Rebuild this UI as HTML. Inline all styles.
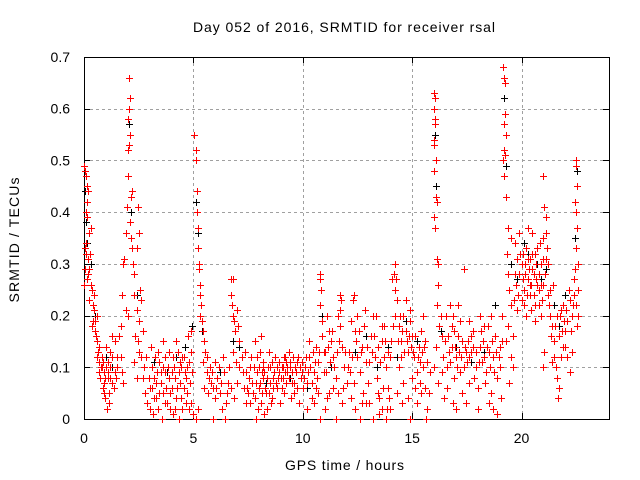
<!DOCTYPE html>
<html>
<head>
<meta charset="utf-8">
<style>
html,body{margin:0;padding:0;background:#fff;}
svg{display:block;font-family:"Liberation Sans",sans-serif;}
</style>
</head>
<body>
<svg id="chart" width="640" height="480" viewBox="0 0 640 480">
  <rect x="0" y="0" width="640" height="480" fill="#fff"/>
  <g id="grid"></g>
  <g id="axes"></g>
  <g id="marks"></g>
  <text x="344" y="32" font-size="14" text-anchor="middle" textLength="302" lengthAdjust="spacing" fill="#000">Day 052 of 2016, SRMTID for receiver rsal</text>
  <text x="344.5" y="470" font-size="14" text-anchor="middle" textLength="119" lengthAdjust="spacing" fill="#000">GPS time / hours</text>
  <text x="19" y="240" font-size="14" text-anchor="middle" textLength="125" lengthAdjust="spacing" fill="#000" transform="rotate(-90 19 240)">SRMTID / TECUs</text>
</svg>
<script>
const xTicks = [0, 5, 10, 15, 20];
const yTicks = [0, 0.1, 0.2, 0.3, 0.4, 0.5, 0.6, 0.7];
const yTickLabels = ["0", "0.1", "0.2", "0.3", "0.4", "0.5", "0.6", "0.7"];
const xDomain = [0, 24];
const yDomain = [0, 0.7];

const blackData = [
[0.05,.44],[0.1,.38],[0.15,.34],[0.3,.3],[0.5,.2],[1.0,.12],[1.3,.1],[2.05,.57],[2.15,.4],[2.4,.24],
[3.2,.11],[3.8,.09],[4.2,.12],[4.6,.14],[4.95,.18],[5.1,.42],[5.2,.36],[5.4,.17],[6.2,.09],[6.8,.15],
[7.1,.14],[8.3,.07],[8.9,.09],[9.4,.08],[10.2,.06],[10.9,.2],[11.3,.1],[12.4,.13],[12.9,.16],[13.4,.1],
[13.9,.14],[14.3,.12],[14.7,.19],[15.2,.15],[16.05,.55],[16.1,.45],[16.3,.17],[17.0,.14],[17.7,.11],[18.3,.13],
[18.8,.22],[19.2,.62],[19.3,.49],[19.5,.3],[19.8,.27],[20.3,.32],[20.7,.3],[21.1,.29],[21.5,.22],[22.0,.24],
[22.45,.35],[22.55,.48],[21.7,.18],[20.1,.34],[20.9,.27]
];

const redData = [
[0.02,.49],[0.05,.48],[0.1,.47],[0.15,.45],[0.2,.44],[0.08,.40],[0.15,.39],[0.03,.33],[0.1,.34],[0.18,.31],[0.25,.36],[0.3,.37],[0.05,.29],[0.12,.27],[0.2,.28],[0.3,.26],[0.35,.25],[0.4,.22],[0.45,.21],[0.5,.19],[0.38,.18],[0.55,.16],[0.6,.15],[0.25,.23],[0.45,.24],[0.6,.2],[0.02,.26],[0.08,.32],[0.22,.29],
[0.6,.12],[0.7,.11],[0.8,.10],[0.9,.09],[1.0,.10],[0.75,.08],[0.85,.06],[1.1,.11],[1.2,.08],[1.3,.07],[0.95,.04],[1.05,.02],[1.15,.05],[1.4,.09],[1.5,.10],[0.65,.13],[1.0,.14],[1.2,.13],[1.3,.16],[1.4,.15],[1.5,.12],[0.9,.07],[0.8,.12],[0.7,.09],[1.1,.08],
[1.6,.16],[1.7,.18],[1.75,.24],[1.8,.3],[1.85,.31],[1.9,.36],[1.95,.41],[2.0,.47],[2.05,.53],[2.0,.58],[2.05,.60],[2.1,.62],[2.05,.66],[2.0,.52],[2.1,.55],[2.15,.43],[2.2,.44],[2.1,.38],[2.15,.35],[2.2,.33],[2.25,.30],[2.3,.28],[1.7,.12],[1.75,.09],[1.8,.07],[2.3,.24],[2.4,.21],[2.5,.19],[2.55,.25],[2.6,.23],[2.45,.15],[2.35,.16],[2.5,.13],[2.6,.12],[2.7,.17],[2.3,.11],[2.4,.08],[2.45,.41],[2.5,.36],[2.4,.33],[1.9,.21],[2.0,.2],
[2.7,.08],[2.8,.05],[2.9,.03],[3.0,.06],[3.1,.1],[3.2,.04],[3.3,.07],[3.4,.02],[3.5,.09],[3.6,.05],[3.7,.12],[3.8,.03],[3.9,.08],[4.0,.06],[4.1,.1],[4.2,.04],[4.3,.13],[4.4,.07],[4.5,.02],[4.6,.09],[4.7,.05],[4.8,.11],[4.9,.03],[5.0,.01],[3.05,.14],[3.25,.12],[3.45,.11],[3.6,.15],[3.9,.13],[4.2,.15],[4.5,.12],[4.75,.16],[4.9,.17],[2.85,.12],[3.15,.01],[3.55,.0],[4.05,.01],[4.35,.0],[4.65,.03],[3.35,.09],[3.75,.06],[4.15,.08],[4.55,.06],[4.85,.07],[3.0,.02],[3.45,.05],[3.85,.1],[4.25,.06],[4.45,.1],[4.95,.09],
[5.05,.55],[5.1,.52],[5.1,.5],[5.15,.44],[5.15,.4],[5.2,.37],[5.2,.33],[5.25,.3],[5.25,.29],[5.3,.26],[5.3,.24],[5.35,.22],[5.4,.19],[5.45,.17],[5.5,.15],[5.55,.13],[5.6,.12],[5.3,.2],[5.45,.11],[5.6,.09],[5.7,.08],[5.5,.06],[5.65,.05],[5.8,.07],[5.1,.0],[5.2,.02],[5.75,.1],[5.9,.06],[6.0,.04],[6.1,.08],[6.2,.05],[6.3,.02],[6.4,.09],[6.5,.03],[6.0,.11],[6.35,.12],[6.6,.07],[5.9,.0],[6.45,.0],
[6.7,.27],[6.8,.27],[6.7,.24],[6.75,.22],[6.8,.2],[6.85,.19],[6.9,.17],[7.0,.21],[7.05,.18],[7.1,.15],[6.8,.13],[6.95,.11],[7.1,.1],[6.7,.06],[6.85,.04],[7.0,.07],[7.2,.12],[7.3,.06],[7.4,.03],
[7.5,.05],[7.6,.03],[7.7,.07],[7.8,.04],[7.9,.09],[8.0,.06],[8.1,.03],[8.2,.08],[8.3,.05],[8.4,.1],[8.5,.07],[8.6,.04],[8.7,.09],[8.8,.06],[8.9,.11],[9.0,.08],[9.1,.1],[9.2,.12],[9.3,.09],[9.4,.11],[9.5,.07],[9.6,.05],[9.7,.09],[9.8,.12],[9.9,.08],[10.0,.06],[7.55,.08],[7.75,.1],[7.95,.02],[8.15,.05],[8.35,.02],[8.55,.03],[8.75,.12],[8.95,.03],[9.15,.05],[9.35,.13],[9.55,.12],[9.75,.06],[9.95,.11],[7.65,.12],[8.05,.13],[8.45,.13],[8.65,.06],[8.85,.08],[9.05,.06],[9.25,.07],[9.45,.04],[9.65,.1],[9.85,.03],[7.85,.0],[8.25,.01],[7.4,.09],[7.35,.13],[8.1,.16],[7.8,.15],[8.2,.11],[8.05,.07],[8.45,.05],[8.25,.09],[9.05,.1],[9.25,.11],
[10.1,.1],[10.2,.07],[10.3,.12],[10.4,.04],[10.5,.09],[10.6,.14],[10.7,.11],[10.8,.28],[10.8,.27],[10.85,.25],[10.8,.22],[10.9,.19],[10.9,.16],[11.0,.13],[11.1,.2],[11.2,.17],[11.3,.15],[11.4,.12],[11.5,.08],[11.6,.2],[11.7,.18],[11.8,.14],[11.9,.1],[12.0,.07],[10.2,.02],[10.5,.03],[10.8,.0],[11.2,.05],[11.5,.0],[11.8,.03],[11.7,.24],[11.75,.23],[11.7,.21],[10.3,.15],[10.6,.06],[11.0,.02],[11.4,.06],[10.95,.09],[11.25,.11],[11.55,.13],[11.85,.06],
[12.1,.13],[12.2,.19],[12.3,.23],[12.35,.24],[12.4,.17],[12.5,.12],[12.6,.09],[12.7,.14],[12.8,.18],[12.9,.11],[13.0,.07],[13.1,.16],[13.2,.2],[13.3,.12],[13.4,.08],[13.5,.04],[13.6,.15],[13.7,.18],[13.8,.1],[13.9,.06],[14.0,.02],[12.2,.04],[12.4,.02],[12.6,.0],[12.9,.03],[13.2,.0],[13.5,.01],[13.8,.0],[12.5,.2],[12.85,.21],[13.35,.2],[13.75,.15],[14.0,.12],[14.1,.27],[14.15,.28],[14.2,.3],[14.25,.27],[14.2,.25],[14.3,.23],[14.2,.2],[12.15,.09],[12.75,.05],[13.05,.11],[13.65,.06],[13.85,.02],[13.95,.04],
[14.4,.18],[14.5,.15],[14.6,.2],[14.7,.17],[14.8,.13],[14.9,.19],[15.0,.16],[15.1,.12],[15.2,.09],[15.3,.14],[15.4,.17],[15.5,.1],[15.6,.06],[15.7,.02],[14.4,.1],[14.6,.07],[14.8,.04],[15.0,.08],[15.2,.03],[15.4,.05],[14.5,.12],[14.7,.23],[14.9,.21],[15.5,.2],[15.6,.15],[15.7,.11],[15.65,.0],[15.75,.05],[15.8,.09],[14.3,.05],[14.9,.0],
[16.0,.63],[16.05,.62],[16.0,.6],[16.05,.58],[16.05,.57],[16.0,.54],[16.0,.53],[16.1,.5],[16.0,.48],[16.1,.43],[16.15,.42],[16.0,.39],[16.05,.37],[16.15,.31],[16.2,.3],[16.2,.26],[16.15,.22],[16.25,.18],[16.3,.2],[16.35,.16],[16.4,.12],[16.1,.14],[16.0,.1],[16.2,.07],[16.35,.09],[16.45,.04],
[16.5,.15],[16.6,.1],[16.7,.13],[16.8,.18],[16.9,.08],[17.0,.12],[17.1,.16],[17.2,.09],[17.3,.05],[17.4,.14],[17.5,.11],[17.6,.07],[17.7,.13],[17.8,.17],[17.9,.1],[18.0,.06],[18.1,.14],[18.2,.11],[18.3,.18],[18.4,.09],[18.5,.13],[18.6,.05],[18.7,.12],[18.8,.16],[18.9,.08],[19.0,.1],[19.1,.15],[16.55,.2],[16.75,.22],[17.1,.22],[17.35,.29],[17.6,.19],[18.1,.2],[18.5,.03],[18.7,.02],[18.9,.01],[18.6,.2],[19.1,.2],[17.0,.02],[17.45,.03],[18.0,.02],[16.85,.03],[16.6,.06],[18.35,.07],[19.05,.04],[16.95,.14],[17.25,.12],[17.55,.15],[17.85,.08],[18.25,.15],[18.75,.09],
[19.15,.68],[19.2,.66],[19.25,.65],[19.25,.59],[19.2,.57],[19.3,.55],[19.2,.52],[19.25,.51],[19.15,.5],[19.2,.47],[19.3,.43],[19.4,.37],[19.35,.32],[19.4,.28],[19.5,.35],[19.45,.25],[19.5,.22],[19.4,.18],[19.3,.15],[19.5,.12],[19.6,.16],[19.6,.1],[19.45,.07],
[19.7,.34],[19.8,.31],[19.9,.28],[20.0,.3],[20.1,.25],[20.2,.33],[20.3,.27],[20.4,.24],[20.5,.29],[20.6,.32],[20.7,.26],[20.8,.22],[20.9,.3],[21.0,.35],[19.8,.21],[20.0,.23],[20.2,.2],[20.4,.31],[20.6,.22],[20.8,.28],[21.0,.26],[19.75,.26],[19.9,.36],[20.3,.37],[20.5,.36],[20.7,.33],[21.1,.31],[21.2,.24],[20.9,.2],[20.15,.28],[20.45,.26],[20.95,.23],[19.65,.23],[20.25,.24],[20.05,.32],[20.35,.29],[20.65,.27],[20.85,.34],[20.55,.24],
[21.0,.47],[21.05,.41],[21.1,.39],[21.1,.36],[21.2,.3],[21.3,.25],[21.4,.18],[21.5,.15],[21.6,.2],[21.7,.16],[21.8,.12],[21.9,.22],[22.0,.17],[22.1,.19],[22.2,.23],[22.3,.2],[22.4,.27],[22.45,.29],[22.5,.5],[22.5,.49],[22.55,.45],[22.45,.42],[22.5,.4],[22.55,.37],[22.5,.33],[22.6,.3],[22.6,.2],[22.55,.18],[21.0,.1],[21.05,.13],[21.6,.08],[21.7,.06],[21.65,.04],[21.5,.12],[22.0,.14],[22.2,.09],[22.3,.13],[21.3,.2],[21.45,.26],[21.8,.21],[22.15,.25],[21.9,.14]
];

const redExtra = [
[0.12,.42],[0.28,.32],[0.42,.19],[0.52,.17],[0.68,.14],[0.78,.1],[0.88,.11],[0.98,.08],[1.08,.09],[1.18,.1],[1.28,.12],[1.38,.06],[1.48,.08],[0.92,.05],[1.12,.03],
[2.75,.1],[2.95,.08],[3.12,.06],[3.28,.04],[3.38,.13],[3.52,.07],[3.68,.03],[3.72,.09],[3.95,.05],[4.08,.12],[4.18,.02],[4.32,.09],[4.42,.04],[4.58,.12],[4.68,.08],[4.78,.02],[4.88,.13],[3.18,.08],[3.62,.1],[4.02,.09],[4.38,.11],[4.72,.1],[3.92,.02],
[5.85,.09],[6.05,.06],[6.15,.1],[6.25,.07],[6.55,.05],[6.65,.1],[7.25,.09],[7.45,.06],[7.58,.1],[7.72,.05],[7.88,.07],[7.98,.1],[8.12,.09],[8.28,.06],[8.38,.08],[8.52,.1],[8.62,.08],[8.78,.07],[8.92,.09],[9.08,.08],[9.18,.09],[9.28,.1],[9.38,.08],[9.52,.09],[9.62,.07],[9.72,.11],[9.88,.1],[9.98,.09],[8.58,.11],[8.18,.1],[7.92,.12],[8.82,.1],[9.12,.12],[9.42,.1],
[10.05,.08],[10.15,.12],[10.25,.09],[10.35,.1],[10.45,.13],[10.55,.11],[10.65,.08],[10.75,.13],[10.95,.13],[11.05,.09],[11.15,.14],[11.35,.17],[11.45,.1],[11.65,.15],[11.95,.13],[10.4,.07],[10.7,.05],[11.1,.04],[11.6,.05],
[12.05,.1],[12.25,.12],[12.45,.15],[12.55,.17],[12.65,.13],[12.95,.14],[13.15,.13],[13.25,.16],[13.45,.14],[13.55,.11],[13.62,.18],[13.72,.12],[13.88,.13],[14.05,.15],[14.12,.18],[12.35,.07],[12.7,.03],[13.05,.03],[13.6,.02],[13.45,.05],
[14.35,.15],[14.45,.2],[14.55,.17],[14.65,.13],[14.75,.15],[14.85,.16],[14.95,.14],[15.05,.13],[15.15,.16],[15.25,.12],[15.35,.11],[15.45,.13],[15.55,.14],[15.15,.06],[15.35,.07],[14.55,.03],
[16.65,.16],[16.72,.11],[16.82,.14],[16.92,.17],[17.05,.1],[17.15,.13],[17.28,.15],[17.38,.1],[17.48,.13],[17.58,.12],[17.68,.16],[17.78,.14],[17.92,.13],[18.05,.11],[18.15,.17],[18.28,.12],[18.42,.14],[18.55,.1],[18.65,.15],[18.82,.13],[18.95,.12],[19.02,.14],[16.88,.2],[17.2,.19],[18.45,.18],
[19.72,.28],[19.85,.24],[19.95,.32],[20.08,.27],[20.18,.3],[20.28,.31],[20.38,.26],[20.48,.32],[20.58,.28],[20.68,.3],[20.78,.25],[20.88,.26],[20.98,.31],[20.12,.22],[20.62,.19],[21.08,.28],[21.15,.33],[20.42,.21],
[21.25,.22],[21.35,.16],[21.55,.18],[21.75,.2],[21.85,.17],[21.95,.19],[22.05,.21],[22.25,.17],[22.35,.22],[22.42,.24],[22.58,.25],[22.5,.22],[21.4,.11],[21.58,.1],[22.1,.12]
];

const NS = "http://www.w3.org/2000/svg";
const plot = {left: 84, right: 609, top: 57, bottom: 419};
function xScale(t){ return plot.left + (t - xDomain[0]) / (xDomain[1] - xDomain[0]) * (plot.right - plot.left); }
function yScale(v){ return plot.bottom - (v - yDomain[0]) / (yDomain[1] - yDomain[0]) * (plot.bottom - plot.top); }
function mk(tag, attrs){ const e = document.createElementNS(NS, tag); for (const k in attrs) e.setAttribute(k, attrs[k]); return e; }

const grid = document.getElementById('grid');
const axes = document.getElementById('axes');
const marks = document.getElementById('marks');

yTicks.forEach((v, i) => {
  const y = Math.round(yScale(v)) + 0.5;
  if (v > yDomain[0] && v < yDomain[1]) {
    const g = mk('line', {x1: plot.left, x2: plot.right, y1: y, y2: y, stroke: '#a0a0a0', 'stroke-width': 1, 'stroke-dasharray': '3,3'});
    
    
    grid.appendChild(g);
  }
  const t1 = mk('line', {x1: plot.left, x2: plot.left + 6, y1: y, y2: y, stroke: '#000'});
  
  
  axes.appendChild(t1);
  const t2 = mk('line', {x1: plot.right - 6, x2: plot.right, y1: y, y2: y, stroke: '#000'});
  
  
  axes.appendChild(t2);
  const lab = mk('text', {x: plot.left - 14, y: yScale(v) + 5, 'font-size': 14, 'text-anchor': 'end', fill: '#000'});
  lab.textContent = yTickLabels[i];
  
  
  axes.appendChild(lab);
});

xTicks.forEach(t => {
  const x = Math.round(xScale(t)) + 0.5;
  if (t > xDomain[0]) {
    const g = mk('line', {x1: x, x2: x, y1: plot.top, y2: plot.bottom, stroke: '#a0a0a0', 'stroke-width': 1, 'stroke-dasharray': '3,3'});
    
    
    grid.appendChild(g);
  }
  const t1 = mk('line', {x1: x, x2: x, y1: plot.bottom, y2: plot.bottom - 6, stroke: '#000'});
  
  
  axes.appendChild(t1);
  const t2 = mk('line', {x1: x, x2: x, y1: plot.top, y2: plot.top + 6, stroke: '#000'});
  
  
  axes.appendChild(t2);
  const lab = mk('text', {x: xScale(t), y: plot.bottom + 24, 'font-size': 14, 'text-anchor': 'middle', fill: '#000'});
  lab.textContent = String(t);
  
  
  axes.appendChild(lab);
});

const frame = mk('rect', {x: plot.left + 0.5, y: plot.top + 0.5, width: plot.right - plot.left, height: plot.bottom - plot.top, fill: 'none', stroke: '#000', 'stroke-width': 1});


axes.appendChild(frame);

function drawSeries(data, color, name){
  const g = mk('g', {stroke: color, 'stroke-width': 1, fill: 'none'});
  
  
  let d = '';
  data.forEach(p => {
    const x = Math.round(xScale(p[0])) + 0.5;
    const y = Math.round(yScale(p[1])) + 0.5;
    d += 'M' + (x - 3.5) + ' ' + y + 'h7M' + x + ' ' + (y - 3.5) + 'v7';
  });
  const path = mk('path', {d: d});
  
  
  g.appendChild(path);
  marks.appendChild(g);
}
drawSeries(blackData, '#000000', 'black-series');
drawSeries(redData, '#ff0000', 'red-series');
drawSeries(redExtra, '#ff0000', 'red-series-extra');
</script>
</body>
</html>
